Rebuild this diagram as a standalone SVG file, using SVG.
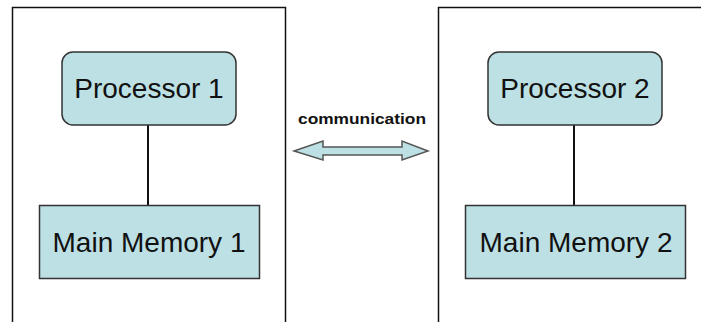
<svg xmlns="http://www.w3.org/2000/svg" width="701" height="322" viewBox="0 0 701 322">
  <style>
    .frame { fill: none; stroke: #111; stroke-width: 1.5; }
    .node { fill: #bde0e4; stroke: #333; stroke-width: 1.5; }
    .link { stroke: #111; stroke-width: 2; fill: none; }
    .label { font-family: "Liberation Sans", Arial, sans-serif; font-size: 28px; fill: #111; text-anchor: middle; }
    .small { font-family: "Liberation Sans", Arial, sans-serif; font-size: 15px; font-weight: bold; fill: #111; text-anchor: middle; }
  </style>

  <!-- machine enclosures (open at the bottom edge) -->
  <g id="machine-1">
    <path class="frame" d="M12.5,330 V7.5 H285.5 V330"/>
  </g>
  <g id="machine-2">
    <path class="frame" d="M438.5,330 V7.5 H710"/>
  </g>

  <!-- connectors -->
  <g id="connectors">
    <line class="link" x1="148" y1="125" x2="148" y2="205"/>
    <line class="link" x1="574" y1="125" x2="574" y2="205"/>
    <path id="comm-arrow" d="M294,151 L323,141 L323,147 L402,147 L402,141 L428,151 L402,160 L402,155 L323,155 L323,160 Z"
          fill="#bde0e4" stroke="#555" stroke-width="1.5" stroke-linejoin="miter"/>
  </g>

  <g id="processor-1">
    <rect class="node" x="62" y="52" width="174" height="73" rx="11"/>
    <text class="label" x="149" y="98">Processor 1</text>
  </g>
  <g id="memory-1">
    <rect class="node" x="39.5" y="205.5" width="220" height="73"/>
    <text class="label" x="149" y="252">Main Memory 1</text>
  </g>

  <g id="processor-2">
    <rect class="node" x="488" y="52" width="174" height="73" rx="11"/>
    <text class="label" x="575" y="98">Processor 2</text>
  </g>
  <g id="memory-2">
    <rect class="node" x="465.5" y="205.5" width="220" height="73"/>
    <text class="label" x="576" y="252">Main Memory 2</text>
  </g>

  <g id="communication-label">
    <text class="small" x="362" y="124" textLength="128" lengthAdjust="spacingAndGlyphs">communication</text>
  </g>
</svg>
